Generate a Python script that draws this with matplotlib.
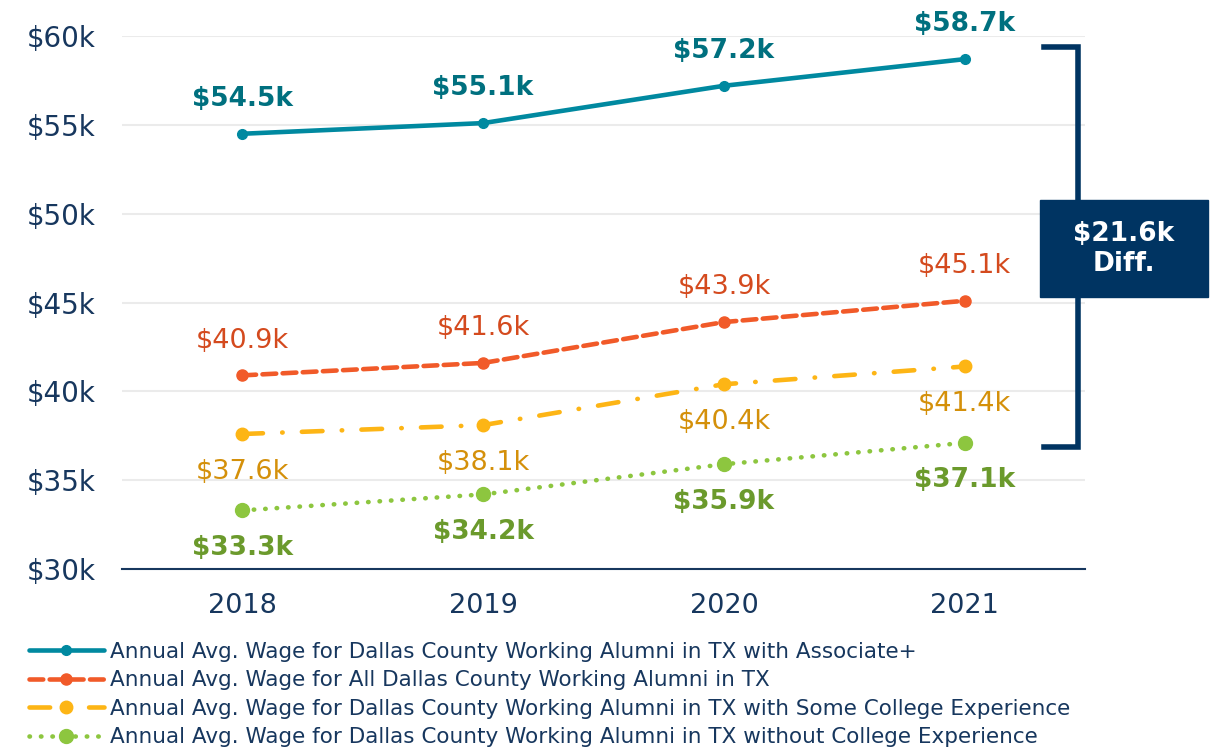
import matplotlib.pyplot as plt
from matplotlib.patches import Rectangle

years = ['2018', '2019', '2020', '2021']
assoc = [54.5, 55.1, 57.2, 58.7]
all_alumni = [40.9, 41.6, 43.9, 45.1]
some_college = [37.6, 38.1, 40.4, 41.4]
no_college = [33.3, 34.2, 35.9, 37.1]

names = [
  'Annual Avg. Wage for Dallas County Working Alumni in TX with Associate+',
  'Annual Avg. Wage for All Dallas County Working Alumni in TX',
  'Annual Avg. Wage for Dallas County Working Alumni in TX with Some College Experience',
  'Annual Avg. Wage for Dallas County Working Alumni in TX without College Experience',
]
diff_text = '$21.6k\nDiff.'

navy = '#17375E'
plt.rcParams['font.family'] = ['DejaVu Sans']

fig = plt.figure(figsize=(12.11, 7.51), dpi=100)
ax = fig.add_axes([0.1007, 0.2423, 0.7953, 0.7097])
x = list(range(len(years)))

series = [
  # values, line colour, label colour, style, marker size, bold, label offset
  (assoc, '#0089A0', '#00707F', '-', 7, True, 25),
  (all_alumni, '#F15A29', '#D44A1E', (0, (3, 1.4)), 8, False, 25),
  (some_college, '#FDB515', '#D4900A', (0, (4.5, 4.2, 0.1, 4.2)), 9, False, -27),
  (no_college, '#8DC63F', '#6B9A2C', (0, (0.1, 2.4)), 10, True, -27),
]

for (vals, c, tc, ls, ms, bold, off), name in zip(series, names):
  ax.plot(x, vals, color=c, lw=3.3, linestyle=ls, marker='o', markersize=ms,
          dash_capstyle='round', solid_capstyle='round', label=name)
  for xi, v in zip(x, vals):
    ax.annotate('$%.1fk' % v, (xi, v), xytext=(0, off), textcoords='offset points',
                ha='center', va='center', fontsize=19 if bold else 19.5, color=tc,
                fontweight='bold' if bold else 'normal')

ax.set_xlim(-0.5, 3.5)
ax.set_ylim(30, 60)
ax.set_yticks(range(30, 61, 5))
ax.set_yticklabels(['$%dk' % v for v in range(30, 61, 5)])
ax.set_xticks(x)
ax.set_xticklabels(years)
ax.tick_params(length=0, labelsize=20, labelcolor=navy, pad=19)
ax.tick_params(axis='x', labelsize=19.5, pad=17)
ax.grid(axis='y', color='#EBEBEB', lw=1.5)
ax.set_axisbelow(True)
for s in ['top', 'right', 'left']:
  ax.spines[s].set_visible(False)
ax.spines['bottom'].set_color(navy)
ax.spines['bottom'].set_linewidth(1.5)

# bracket showing the gap between top and bottom series
bx = 3.47
top, bot = assoc[-1] + 0.7, no_college[-1] - 0.25
ax.plot([bx - 0.14, bx, bx, bx - 0.14], [top, top, bot, bot], color='#003462',
        lw=4, solid_joinstyle='miter', clip_on=False)
fig.patches.append(Rectangle((1040 / 1211, 1 - 297 / 751), 168 / 1211, 97 / 751,
                             transform=fig.transFigure, color='#003462'))
fig.text(1124 / 1211, 1 - 249 / 751, diff_text, ha='center', va='center',
         color='white', fontsize=19, fontweight='bold', linespacing=1.2)

leg = fig.legend(loc='upper left', bbox_to_anchor=(20 / 1211, 1 - 633 / 751),
                 frameon=False, fontsize=15.5, handlelength=3.5, labelspacing=0.4,
                 handletextpad=0.3, borderaxespad=0)
for t in leg.get_texts():
  t.set_color(navy)

fig.savefig('out.png', dpi=100)
